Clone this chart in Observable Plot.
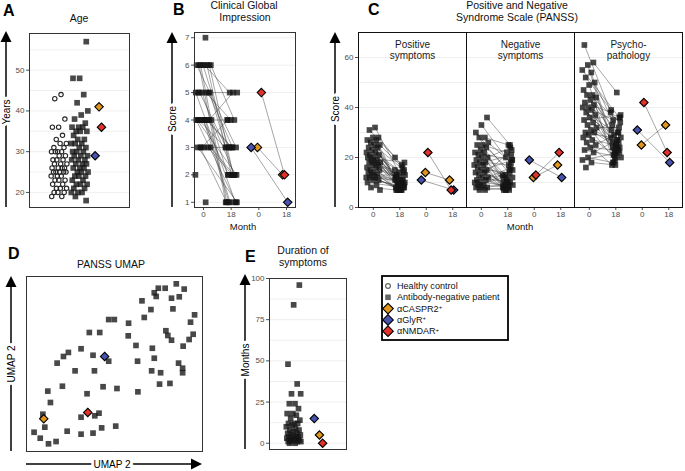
<!DOCTYPE html>
<html><head><meta charset="utf-8">
<script src="https://cdn.jsdelivr.net/npm/d3@7"></script>
<script src="https://cdn.jsdelivr.net/npm/@observablehq/plot@0.6"></script>
<style>
body{margin:0;background:#fff;}
#root{position:relative;width:685px;height:471px;overflow:hidden;background:#fff;}
#root svg{position:absolute;}
</style></head>
<body><div id="root"></div>
<script>
const FONT = '"Liberation Sans", Arial, sans-serif';

// ---- shared ----
const abNames = ["αCASPR2", "αGlyR", "αNMDAR"];
const abColors = ["#E0961E", "#4753AE", "#E3302A"];
const monthTicks = [1, 2, 3, 4];
const monthLabels = ["0", "18", "0", "18"];

// ---- A: Age ----
const ageTicks = [20, 30, 40, 50];
const ageGrid = [20, 25, 30, 35, 40, 45, 50, 55];
const healthyAge = [44,43,38,36,36,34,33,32,32,31,31,30,30,30,30,29,29,28,28,28,27,27,27,26,26,26,26,25,25,25,25,25,24,24,24,23,23,23,22,22,21,21,21,20,20,20,19,19];
const negAge = [57,48,48,44,42,40,39,38,37,36,36,36,35,35,35,34,33,33,32,32,32,31,31,30,30,30,29,29,29,28,28,28,27,27,27,26,26,26,25,25,25,24,24,24,23,23,22,22,22,21,21,20,20,20,19,18];
const abAge = [41, 29, 36];

// ---- B: CGI ----
const cgiTicks = [1, 2, 3, 4, 5, 6, 7];
const cgiNeg0  = [7,6,6,6,6,6,6,6,6,5,5,5,5,5,5,5,4,4,4,4,4,4,4,4,4,4,4,3,3,3,3,3,3,2,1];
const cgiNeg18 = [null,1,2,3,3,2,1,4,5,5,3,2,1,4,3,2,1,2,3,4,2,1,3,5,2,1,3,1,2,3,1,2,4,null,null];
const cgiAb0 = [3, 3, 5];
const cgiAb18 = [2, 1, 2];

// ---- C: PANSS ----
const panssKeys = ["pos", "neg", "psy"];
const panssLabels = ["Positive\nsymptoms", "Negative\nsymptoms", "Psycho-\npathology"];
const panssTicks = [0, 20, 40, 60];
const panssGrid = [0, 10, 20, 30, 40, 50, 60, 70];
const pos0  = [32,31,28,28,27,27,26,25,25,24,24,23,22,22,21,21,20,20,19,19,18,18,18,17,17,16,16,15,15,14,14,13,13,12,12,12,11,11,10,9,8,7];
const pos18 = [14,20,17,10,15,8,12,16,9,13,7,11,14,8,12,10,9,18,7,13,11,8,15,10,7,9,12,8,11,7,10,9,13,8,7,11,7,9,8,null,7,null];
const neg0  = [36,33,30,28,28,26,25,25,24,23,22,22,21,20,20,19,18,18,17,17,16,15,15,14,14,13,12,12,11,11,10,10,9,9,8,8,8,7,7];
const neg18 = [25,20,12,25,9,18,22,8,15,13,19,10,7,24,11,9,17,8,21,12,10,14,7,19,9,8,16,10,13,7,9,23,8,12,10,7,15,8,null];
const psy0  = [65,58,57,55,54,52,50,49,47,45,45,44,43,42,41,40,40,39,38,37,36,35,34,33,32,31,30,30,29,28,27,26,25,24,23,22,20,19,18,16];
const psy18 = [28,46,24,36,22,39,30,18,34,25,33,26,21,38,27,35,24,20,31,23,29,37,22,26,32,19,28,24,21,36,25,17,30,23,20,27,18,22,17,null];
const abPos0 = [14, 11, 22], abPos18 = [11, 7, 7];
const abNeg0 = [12, 19, 13], abNeg18 = [17, 12, 22];
const abPsy0 = [25, 31, 42], abPsy18 = [33, 18, 22];

// ---- D: UMAP ----
const umapX = [74.9,78.8,85.1,89.6,72.6,73.7,82.4,86.8,65.6,70.7,83.2,95.5,93.2,66.9,46.7,49.9,58.0,35.7,41.6,57.8,79.2,80.3,82.4,94.7,92.4,89.0,62.2,71.5,31.0,23.8,21.0,37.8,46.7,17.4,63.1,72.6,86.4,88.7,88.7,27.6,38.6,71.1,76.2,20.4,43.5,51.4,63.3,75.6,81.5,12.1,34.4,13.6,31.0,38.8,41.2,9.3,10.4,23.1,31.0,37.8,42.7,50.7,4.3,7.8,12.5,16.8];
const umapY = [93.3,93.3,95.8,92.8,90.7,88.6,87.6,88.4,86.1,81.1,81.5,78.1,73.9,76.6,75.4,75.4,73.3,68.0,68.0,66.1,69.0,66.3,63.6,67.0,64.0,60.2,60.6,59.0,58.7,56.6,54.3,55.0,51.6,50.5,51.6,53.3,50.5,47.6,45.0,46.1,46.1,46.1,45.0,37.3,37.0,36.0,34.1,38.5,38.9,34.5,33.0,28.0,19.6,20.4,21.9,21.3,13.9,11.6,9.9,10.5,13.5,14.5,11.0,7.6,4.4,5.7];
const abUmapX = [9.8, 44.4, 34.8];
const abUmapY = [18.7, 54.3, 22.3];

// ---- E: duration ----
const durTicks = [0, 25, 50, 75, 100];
const durGrid = [0, 12.5, 25, 37.5, 50, 62.5, 75, 87.5, 100];
const durNeg = [96,84,48,36,30,30,24,24,21,18,18,17,15,14,12,12,12,11,10,9,8,8,7,6,6,5,5,4,4,4,3,3,3,2,2,2,1,1,1,1,0,0];
const abDur = [5, 15, 0];

// deterministic (non-random) horizontal jitter offset in [-0.5, 0.5)
const jit = (i, s) => ((i + 1) * 0.6180339887 + s * 0.2718281828) % 1 - 0.5;

const root = document.getElementById("root");
const colorOpt = {domain: abNames, range: abColors};
const baseStyle = {fontFamily: FONT, fontSize: "8px", background: "transparent", overflow: "visible"};
const SQ = {symbol: "square", r: 3.2, fill: "#151515", fillOpacity: 0.78};
const DM = {symbol: "diamond2", r: 3.8, fill: "name", stroke: "#000", strokeWidth: 1.1};
const LK = {stroke: "#333", strokeOpacity: 0.55, strokeWidth: 0.8};
const yAx = (ticks) => Plot.axisY({ticks, tickFormat: d3.format("d"), tickSize: 3, tickPadding: 2, label: null, color: "#4d4d4d", fontSize: 8});
const xAx = () => Plot.axisX({ticks: monthTicks, tickFormat: d => monthLabels[d - 1], tickSize: 3, tickPadding: 1, label: null, color: "#4d4d4d", fontSize: 8});
const grid = (vals) => Plot.ruleY(vals, {stroke: "#ebebeb", strokeWidth: 0.8});
function place(svg, left, top) { svg.style.left = left + "px"; svg.style.top = top + "px"; root.appendChild(svg); }

// ---- Panel A ----
const abAgeRows = abNames.map((n, i) => ({name: n, y: abAge[i], x: 3 + jit(i, 2.94) * 0.5}));
place(Plot.plot({
  width: 132, height: 184, marginLeft: 29, marginRight: 3, marginTop: 6, marginBottom: 4,
  style: baseStyle,
  x: {domain: [-0.45, 4.45], axis: null},
  y: {domain: [16.3, 59], axis: null},
  color: colorOpt,
  marks: [
    grid(ageGrid),
    yAx(ageTicks),
    Plot.dot(healthyAge, {x: (d, i) => 1 + jit(i, 0) * 0.8, y: d => d, r: 2.2, stroke: "#262626", strokeWidth: 1.1, fill: "none"}),
    Plot.dot(negAge, {x: (d, i) => 2 + jit(i, 1) * 0.85, y: d => d, ...SQ}),
    Plot.dot(abAgeRows, {x: "x", y: "y", ...DM}),
    Plot.frame({stroke: "#333"})
  ]
}), 0, 27);

// ---- Panel B ----
const cgiRows = cgiNeg0.map((v, i) => ({y0: v, y1: cgiNeg18[i], x0: 1 + jit(i, 0) * 0.6, x1: 2 + jit(i, 3) * 0.44}));
const cgiPaired = cgiRows.filter(d => d.y1 != null);
const cgiAbRows = abNames.map((n, i) => ({name: n, y0: cgiAb0[i], y1: cgiAb18[i], x0: 3 + jit(i, 2.94) * 0.6, x1: 4 + jit(i, 1.5) * 0.3}));
place(Plot.plot({
  width: 125, height: 195, marginLeft: 19, marginRight: 5, marginTop: 5, marginBottom: 15,
  style: baseStyle,
  x: {domain: [0.675, 4.325], axis: null},
  y: {domain: [0.81, 7.19], axis: null},
  color: colorOpt,
  marks: [
    grid(cgiTicks),
    yAx(cgiTicks),
    xAx(),
    Plot.link(cgiPaired, {x1: "x0", y1: "y0", x2: "x1", y2: "y1", ...LK}),
    Plot.link(cgiAbRows, {x1: "x0", y1: "y0", x2: "x1", y2: "y1", ...LK}),
    Plot.dot(cgiRows, {x: "x0", y: "y0", ...SQ}),
    Plot.dot(cgiPaired, {x: "x1", y: "y1", ...SQ}),
    Plot.dot(cgiAbRows, {x: "x0", y: "y0", ...DM}),
    Plot.dot(cgiAbRows, {x: "x1", y: "y1", ...DM}),
    Plot.frame({stroke: "#333"})
  ]
}), 175, 27);

// ---- Panel C ----
const panssNeg = {pos: [pos0, pos18], neg: [neg0, neg18], psy: [psy0, psy18]};
const panssAb = {pos: [abPos0, abPos18], neg: [abNeg0, abNeg18], psy: [abPsy0, abPsy18]};
const cRows = panssKeys.flatMap((k, ki) => panssNeg[k][0].map((v, i) => ({facet: k, y0: v, y1: panssNeg[k][1][i], x0: 1 + jit(i, ki) * 0.55, x1: 2 + jit(i, ki + 3) * 0.4})));
const cPaired = cRows.filter(d => d.y1 != null);
const cAbRows = panssKeys.flatMap((k, ki) => abNames.map((n, i) => ({facet: k, name: n, y0: panssAb[k][0][i], y1: panssAb[k][1][i], x0: 3 + jit(i, 2.94) * 0.4, x1: 4 + jit(i, 1.5) * 0.25})));
place(Plot.plot({
  width: 365, height: 195, marginLeft: 37, marginRight: 2, marginTop: 5, marginBottom: 15,
  style: baseStyle,
  fx: {domain: panssKeys, padding: 0, axis: null},
  x: {domain: [0.44, 4.52], axis: null},
  y: {domain: [0, 70], axis: null},
  color: colorOpt,
  marks: [
    grid(panssGrid),
    yAx(panssTicks),
    xAx(),
    Plot.link(cPaired, {fx: "facet", x1: "x0", y1: "y0", x2: "x1", y2: "y1", ...LK}),
    Plot.link(cAbRows, {fx: "facet", x1: "x0", y1: "y0", x2: "x1", y2: "y1", ...LK}),
    Plot.dot(cRows, {fx: "facet", x: "x0", y: "y0", ...SQ}),
    Plot.dot(cPaired, {fx: "facet", x: "x1", y: "y1", ...SQ}),
    Plot.dot(cAbRows, {fx: "facet", x: "x0", y: "y0", ...DM}),
    Plot.dot(cAbRows, {fx: "facet", x: "x1", y: "y1", ...DM}),
    Plot.text(panssKeys, {fx: d => d, text: (d, i) => panssLabels[i], frameAnchor: "top", lineAnchor: "top", dy: 7, fontSize: 10, fill: "#1a1a1a", lineHeight: 1.15}),
    Plot.frame({stroke: "#111", strokeWidth: 1})
  ]
}), 320, 27);

// ---- Panel D ----
const umapRows = umapX.map((x, i) => ({x, y: umapY[i]}));
const abUmapRows = abNames.map((n, i) => ({name: n, x: abUmapX[i], y: abUmapY[i]}));
place(Plot.plot({
  width: 184, height: 183, marginLeft: 6, marginRight: 2, marginTop: 6, marginBottom: 2,
  style: baseStyle,
  x: {domain: [0, 100], axis: null},
  y: {domain: [0, 100], axis: null},
  color: colorOpt,
  marks: [
    Plot.dot(umapRows, {x: "x", y: "y", ...SQ, r: 3.2}),
    Plot.dot(abUmapRows, {x: "x", y: "y", ...DM}),
    Plot.frame({stroke: "#333"})
  ]
}), 20, 270);

// ---- Panel E ----
const abDurRows = abNames.map((n, i) => ({name: n, y: abDur[i], x: 2 + jit(i, 2.94) * 0.5}));
place(Plot.plot({
  width: 109, height: 180, marginLeft: 29, marginRight: 3, marginTop: 6, marginBottom: 3,
  style: baseStyle,
  x: {domain: [0.11, 2.96], axis: null},
  y: {domain: [-3.8, 100], axis: null},
  color: colorOpt,
  marks: [
    grid(durGrid),
    yAx(durTicks),
    Plot.dot(durNeg, {x: (d, i) => 1 + jit(i, 1) * 0.55, y: d => d, ...SQ}),
    Plot.dot(abDurRows, {x: "x", y: "y", ...DM}),
    Plot.frame({stroke: "#333"})
  ]
}), 240, 272);

// ---- overlay: letters, titles, axis arrows, legend ----
const ov = d3.select(root).append("svg")
  .attr("width", 685).attr("height", 471)
  .style("left", "0px").style("top", "0px")
  .style("pointer-events", "none").style("font-family", FONT);

function txt(x, y, s, size, opts = {}) {
  const t = ov.append("text").attr("x", x).attr("y", y).attr("font-size", size)
    .attr("fill", opts.fill || "#111").attr("text-anchor", opts.anchor || "middle");
  if (opts.bold) t.attr("font-weight", "bold");
  t.text(s);
  return t;
}
// panel letters
txt(3, 16, "A", 16, {bold: true, anchor: "start", fill: "#000"});
txt(173, 15, "B", 16, {bold: true, anchor: "start", fill: "#000"});
txt(368, 15, "C", 16, {bold: true, anchor: "start", fill: "#000"});
txt(8, 259, "D", 16, {bold: true, anchor: "start", fill: "#000"});
txt(245, 262, "E", 16, {bold: true, anchor: "start", fill: "#000"});
// titles
txt(79, 21.7, "Age", 10.5);
txt(244, 8.7, "Clinical Global", 10.5);
txt(245, 20.9, "Impression", 10.5);
txt(517, 8.7, "Positive and Negative", 10.5);
txt(517, 20.9, "Syndrome Scale (PANSS)", 10.5);
txt(111, 267.7, "PANSS UMAP", 10.5);
txt(303, 253.7, "Duration of", 10.5);
txt(303, 265.9, "symptoms", 10.5);
// x titles
txt(243, 229.5, "Month", 9.5);
txt(520, 229.5, "Month", 9.5);

function vArrow(x, top, bottom, label, ly) {
  ov.append("line").attr("x1", x).attr("x2", x).attr("y1", top + 9).attr("y2", bottom)
    .attr("stroke", "#000").attr("stroke-width", 1.5);
  ov.append("path").attr("d", `M${x},${top}L${x - 5.5},${top + 11}L${x + 5.5},${top + 11}Z`).attr("fill", "#000");
  ov.append("text").attr("transform", `translate(${x},${ly}) rotate(-90)`)
    .attr("text-anchor", "middle").attr("dy", "0.35em").attr("font-size", 10)
    .attr("fill", "#000").attr("stroke", "#fff").attr("stroke-width", 6).attr("paint-order", "stroke")
    .text(label);
}
function hArrow(y, left, right, label, lx) {
  ov.append("line").attr("y1", y).attr("y2", y).attr("x1", left).attr("x2", right - 9)
    .attr("stroke", "#000").attr("stroke-width", 1.5);
  ov.append("path").attr("d", `M${right},${y}L${right - 11},${y - 5.5}L${right - 11},${y + 5.5}Z`).attr("fill", "#000");
  ov.append("text").attr("x", lx).attr("y", y).attr("text-anchor", "middle").attr("dy", "0.35em")
    .attr("font-size", 10).attr("fill", "#000").attr("stroke", "#fff").attr("stroke-width", 6)
    .attr("paint-order", "stroke").text(label);
}
vArrow(6, 31, 207, "Years", 112);
vArrow(172, 32, 207, "Score", 119);
vArrow(335, 32, 207, "Score", 109);
vArrow(11, 276, 451, "UMAP 2", 364);
hArrow(464, 26, 202, "UMAP 2", 112);
vArrow(245, 274, 449, "Months", 360);

// legend
const lg = ov.append("g");
lg.append("rect").attr("x", 382).attr("y", 276).attr("width", 126).attr("height", 64)
  .attr("fill", "#fff").attr("stroke", "#000").attr("stroke-width", 1.8);
const legendItems = [
  {label: "Healthy control", kind: "circle"},
  {label: "Antibody-negative patient", kind: "square"},
  ...abNames.map((n, i) => ({label: n, kind: "diamond", color: abColors[i]}))
];
legendItems.forEach((it, i) => {
  const cy = 286 + i * 11.3, cx = 388;
  if (it.kind === "circle") lg.append("circle").attr("cx", cx).attr("cy", cy).attr("r", 2.4).attr("fill", "none").attr("stroke", "#666").attr("stroke-width", 1.2);
  else if (it.kind === "square") lg.append("rect").attr("x", cx - 2.8).attr("y", cy - 2.8).attr("width", 5.6).attr("height", 5.6).attr("fill", "#666");
  else lg.append("path").attr("d", `M${cx},${cy - 5.3}L${cx + 5.3},${cy}L${cx},${cy + 5.3}L${cx - 5.3},${cy}Z`).attr("fill", it.color).attr("stroke", "#000").attr("stroke-width", 1.1);
  const t = lg.append("text").attr("x", 397).attr("y", cy).attr("dy", "0.35em").attr("font-size", 9.1).attr("fill", "#111").text(it.label);
  if (it.kind === "diamond") t.append("tspan").attr("dy", "-0.45em").attr("font-size", 6).text("+");
});
</script></body></html>
